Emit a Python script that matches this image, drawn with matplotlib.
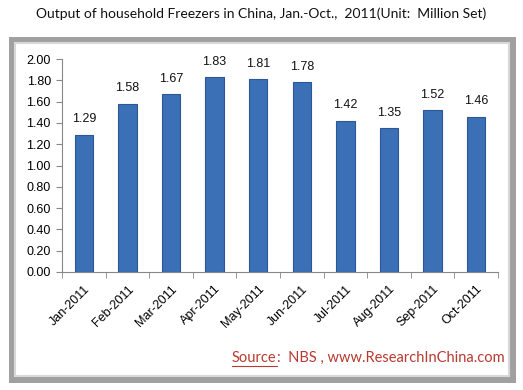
import matplotlib
matplotlib.use("Agg")
import matplotlib.pyplot as plt
from matplotlib.patches import Rectangle
import numpy as np

months = ["Jan-2011", "Feb-2011", "Mar-2011", "Apr-2011", "May-2011",
          "Jun-2011", "Jul-2011", "Aug-2011", "Sep-2011", "Oct-2011"]
values = [1.29, 1.58, 1.67, 1.83, 1.81, 1.78, 1.42, 1.35, 1.52, 1.46]
yticks = [0.0, 0.2, 0.4, 0.6, 0.8, 1.0, 1.2, 1.4, 1.6, 1.8, 2.0]

W, H = 523, 390
fig = plt.figure(figsize=(W / 100, H / 100), dpi=100)
fig.patch.set_facecolor("white")

def fx(x): return x / W
def fy(y): return 1 - y / H

# frame with shadow
for off, col in [(4, "#d0d0d0"), (2, "#b8b8b8")]:
    fig.patches.append(Rectangle((fx(12 + off), fy(379 + off)), fx(500), (379 - 40) / H,
                                 transform=fig.transFigure, facecolor=col, edgecolor="none", zorder=0))
fig.patches.append(Rectangle((fx(12), fy(379)), fx(500), (379 - 40) / H,
                             transform=fig.transFigure, facecolor="white", edgecolor="#a0a0a0",
                             linewidth=5, zorder=1))
fig.patches.append(Rectangle((fx(15), fy(376)), fx(494), (376 - 43) / H,
                             transform=fig.transFigure, facecolor="white", edgecolor="#d8d8d8",
                             linewidth=1.5, zorder=1))

fig.text(0.5, fy(14), "Output of household Freezers in China, Jan.-Oct.,  2011(Unit:  Million Set)",
         ha="center", va="center", fontsize=10, family="Lato", color="#111111")

ax = fig.add_axes([fx(62), fy(272), fx(498 - 62), (272 - 59) / H])
ax.set_zorder(3)
ax.patch.set_alpha(0)
x = np.arange(len(months))
bars = ax.bar(x, values, width=0.42, color="#3b6fb6", edgecolor="#2b5799", linewidth=0.8, zorder=3)
for xi, v in zip(x, values):
    ax.text(xi, v + 0.09, f"{v:.2f}", ha="center", va="bottom", fontsize=9,
            family="Liberation Sans", color="#111111")
ax.set_xlim(-0.5, len(months) - 0.5)
ax.set_ylim(0, 2.0)
ax.set_yticks(yticks)
ax.set_yticklabels([f"{t:.2f}" for t in yticks], family="Liberation Sans", fontsize=9)
ax.set_xticks(x)
ax.set_xticklabels(months, rotation=45, ha="right", rotation_mode="anchor",
                   family="Liberation Sans", fontsize=9)
ax.set_xticks(np.arange(-0.5, len(months)), minor=True)
ax.tick_params(axis="x", which="major", length=0, pad=8)
ax.tick_params(axis="x", which="minor", length=4, color="#888888")
ax.tick_params(axis="y", length=4, color="#888888", pad=4)
for s in ["top", "right"]:
    ax.spines[s].set_visible(False)
for s in ["left", "bottom"]:
    ax.spines[s].set_color("#888888")

red = "#b83a30"
renderer = fig.canvas.get_renderer()
t1 = fig.text(fx(232), fy(358), "Source", ha="left", va="center", fontsize=10.5,
              family="Lato", color=red)
bb = t1.get_window_extent(renderer)
x_end = bb.x1 / W
fig.text(x_end, fy(358), ":  NBS , www.ResearchInChina.com", ha="left", va="center",
         fontsize=10.5, family="Lato", color=red)
fig.lines.append(plt.Line2D([fx(232), x_end], [fy(366), fy(366)], transform=fig.transFigure,
                            color=red, linewidth=0.8))

fig.savefig("out.png", dpi=100)
